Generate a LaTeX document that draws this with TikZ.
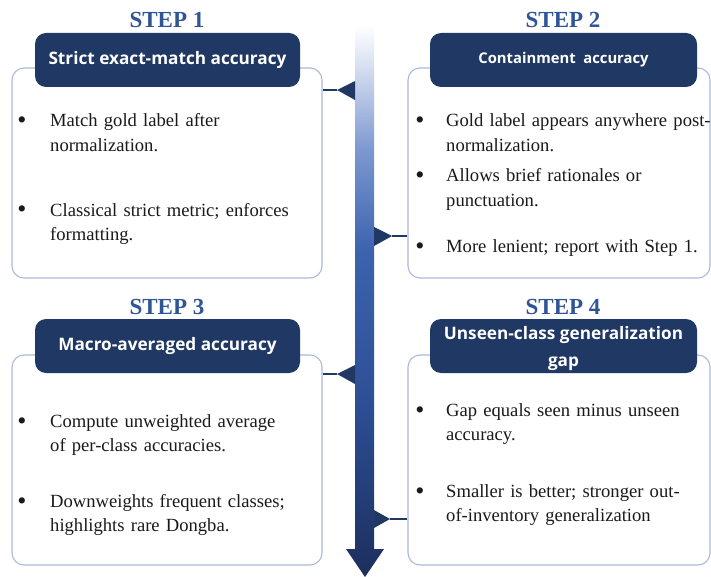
\documentclass[tikz,border=0pt]{standalone}
\usepackage{fontspec}
\setmainfont{Liberation Serif}
\newfontfamily\headsans{Open Sans}
\definecolor{navy}{HTML}{203864}
\definecolor{stepblue}{HTML}{2F5597}
\definecolor{panelline}{HTML}{AAB9DD}
\definecolor{bodyink}{HTML}{1A1A1A}
\definecolor{shaftL}{HTML}{DDE4F3}
\definecolor{shaftA}{HTML}{7C98D0}
\definecolor{shaftB}{HTML}{3D63AE}
\definecolor{shaftC}{HTML}{2D4F96}
\definecolor{shaftD}{HTML}{1C2F5C}
\pgfdeclareverticalshading{shaftfade}{100bp}{color(0bp)=(shaftD); color(25bp)=(shaftD); color(41bp)=(shaftC); color(54.6bp)=(shaftB); color(63.7bp)=(shaftA); color(71.8bp)=(shaftL); color(75bp)=(white); color(100bp)=(white)}
\begin{document}
\begin{tikzpicture}[x=1pt,y=-1pt,
  panel/.style={draw=panelline, line width=1.1pt, rounded corners=12pt, fill=white,
    minimum height=210pt, inner sep=0pt},
  titlebox/.style={fill=navy, rounded corners=11pt, minimum height=54pt,
    text=white, align=center, inner sep=0pt, font=\headsans\bfseries\fontsize{17.2}{27}\selectfont},
  steplabel/.style={text=stepblue, font=\bfseries\fontsize{23}{26}\selectfont, inner sep=0pt},
  item/.style={anchor=base west, inner sep=0pt, text=bodyink, align=left, text width=270pt,
    font=\fontsize{18.6}{24.8}\selectfont},
  bul/.style={anchor=base, inner sep=0pt, text=bodyink, font=\fontsize{26}{26}\selectfont},
  conn/.style={draw=navy, line width=1.2pt},
  tip/.style={fill=navy}
]
\useasboundingbox[fill=white] (0,0) rectangle (711,577);

% central timeline arrow
\shade[shading=shaftfade] (355,25) -- (374,25) -- (374,549) -- (384,549) -- (365,577)
  -- (346,549) -- (355,549) -- cycle;

% ---- Step 1 ----
\node[steplabel] (s1) at (167,20) {STEP 1};
\node[panel, minimum width=310pt] (p1) at (167,173) {};
\node[titlebox, minimum width=265pt] (h1) at (167.5,60) {Strict exact-match accuracy};
\node[bul] (d1a) at (22,129) {\textbullet};
\node[item] (i1a) at (50,127) {Match gold label after\\normalization.};
\node[bul] (d1b) at (22,218) {\textbullet};
\node[item] (i1b) at (50,216) {Classical strict metric; enforces\\formatting.};
\coordinate (t1) at (337,90);
\fill[tip] (t1) -- (355,81) -- (355,100) -- cycle;
\draw[conn] (p1.east |- t1) -- (t1);

% ---- Step 2 ----
\node[steplabel] (s2) at (563,20) {STEP 2};
\node[panel, minimum width=302pt] (p2) at (559,173) {};
\node[titlebox, minimum width=267pt, font=\headsans\bfseries\fontsize{14.8}{27}\selectfont] (h2) at (563.5,60) {Containment\ \ accuracy};
\node[bul] (d2a) at (420,129) {\textbullet};
\node[item] (i2a) at (446,127) {Gold label appears anywhere post-\\normalization.};
\node[bul] (d2b) at (420,184) {\textbullet};
\node[item] (i2b) at (446,182) {Allows brief rationales or\\punctuation.};
\node[bul] (d2c) at (420,254) {\textbullet};
\node[item] (i2c) at (446,252) {More lenient; report with Step 1.};
\coordinate (t2) at (392,236);
\fill[tip] (t2) -- (374,227) -- (374,246) -- cycle;
\draw[conn] (t2) -- (p2.west |- t2);

% ---- Step 3 ----
\node[steplabel] (s3) at (167,307) {STEP 3};
\node[panel, minimum width=310pt] (p3) at (167,460) {};
\node[titlebox, minimum width=265pt] (h3) at (167.5,346) {Macro-averaged accuracy};
\node[bul] (d3a) at (22,429) {\textbullet};
\node[item] (i3a) at (50,427) {Compute unweighted average\\of per-class accuracies.};
\node[bul] (d3b) at (22,509) {\textbullet};
\node[item] (i3b) at (50,507) {Downweights frequent classes;\\highlights rare Dongba.};
\coordinate (t3) at (337,374);
\fill[tip] (t3) -- (355,365) -- (355,384) -- cycle;
\draw[conn] (p3.east |- t3) -- (t3);

% ---- Step 4 ----
\node[steplabel] (s4) at (563,307) {STEP 4};
\node[panel, minimum width=302pt] (p4) at (559,460) {};
\node[titlebox, minimum width=267pt, text depth=0pt] (h4) at (563.5,346) {};
\node[text=white, align=center, inner sep=0pt, font=\headsans\bfseries\fontsize{17.2}{27}\selectfont] (h4t) at (563.5,349) {Unseen-class generalization\\gap};
\node[bul] (d4a) at (420,418) {\textbullet};
\node[item] (i4a) at (446,416) {Gap equals seen minus unseen\\accuracy.};
\node[bul] (d4b) at (420,499) {\textbullet};
\node[item] (i4b) at (446,497) {Smaller is better; stronger out-\\of-inventory generalization};
\coordinate (t4) at (390,519);
\fill[tip] (t4) -- (374,510) -- (374,528) -- cycle;
\draw[conn] (t4) -- (p4.west |- t4);
\end{tikzpicture}
\end{document}
